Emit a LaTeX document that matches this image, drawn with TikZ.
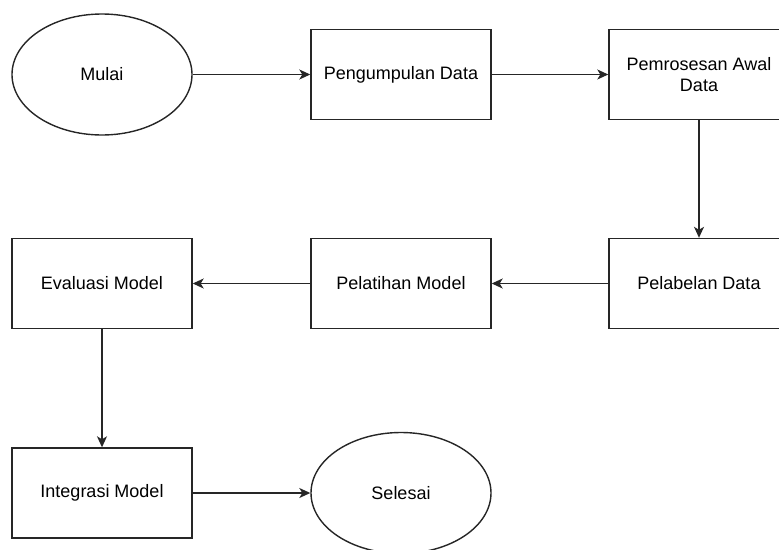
\documentclass[tikz,border=0pt]{standalone}
\usepackage{fontspec}
\setmainfont{Liberation Sans}
\usetikzlibrary{shapes.geometric,arrows.meta}
\begin{document}
\begin{tikzpicture}[x=1pt,y=-1pt,
  every node/.style={font=\fontsize{18}{21}\selectfont, text=black},
  boxnode/.style={draw=black!85, line width=1.4pt, rectangle, minimum width=180pt, minimum height=90pt, inner sep=0pt, align=center},
  ovalnode/.style={draw=black!85, line width=1.4pt, ellipse, minimum width=180pt, minimum height=121pt, inner sep=0pt, align=center},
  conn/.style={draw=black!85, line width=1.4pt, -{Stealth[length=11pt,width=10pt,inset=3pt]}}]
\useasboundingbox (0,0) rectangle (779,549);
\clip (0,0) rectangle (779,549);
\node[ovalnode] (mulai) at (102,74.5) {Mulai};
\node[boxnode] (kumpul) at (401,74.5) {Pengumpulan Data};
\node[boxnode] (proses) at (699,74.5) {Pemrosesan Awal\\Data};
\node[boxnode] (label) at (699,283.5) {Pelabelan Data};
\node[boxnode] (latih) at (401,283.5) {Pelatihan Model};
\node[boxnode] (eval) at (102,283.5) {Evaluasi Model};
\node[boxnode] (integ) at (102,493) {Integrasi Model};
\node[ovalnode] (selesai) at (401,493) {Selesai};
\draw[conn] (mulai) -- (kumpul);
\draw[conn] (kumpul) -- (proses);
\draw[conn] (proses) -- (label);
\draw[conn] (label) -- (latih);
\draw[conn] (latih) -- (eval);
\draw[conn] (eval) -- (integ);
\draw[conn] (integ) -- (selesai);
\end{tikzpicture}
\end{document}
